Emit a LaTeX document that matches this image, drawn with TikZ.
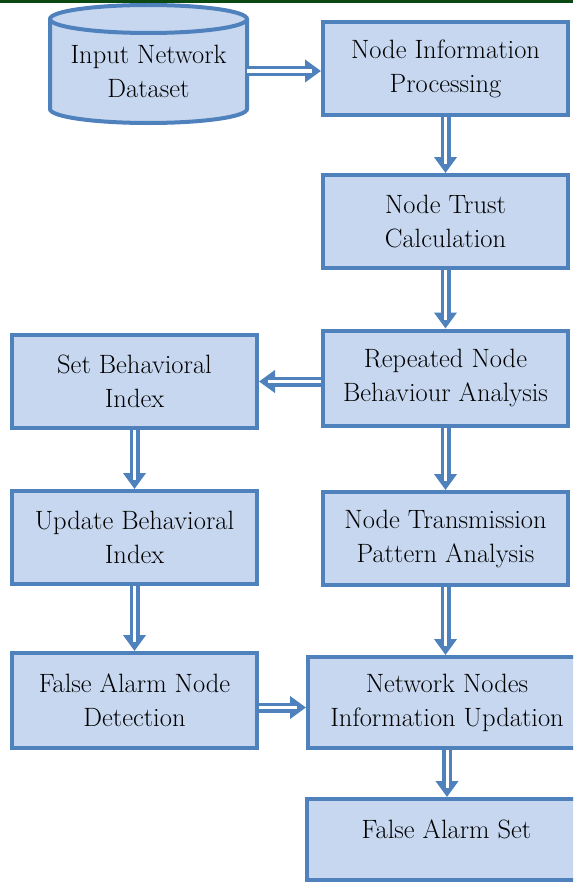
\documentclass[tikz,border=0pt]{standalone}
\usetikzlibrary{arrows.meta,calc}

\definecolor{edgeblue}{RGB}{79,129,189}
\definecolor{boxfill}{RGB}{198,215,239}
\definecolor{topgreen}{RGB}{12,72,18}

\tikzset{
  boxtext/.style={font=\rmfamily\fontsize{26.5}{34}\selectfont},
  stepbox/.style={draw=edgeblue, fill=boxfill, line width=4pt, rectangle,
    minimum width=245pt, minimum height=93pt, inner sep=0pt, align=center,
    boxtext},
  flow/.style={draw=edgeblue, line width=10pt,
    -{Triangle[width=22pt,length=16pt]},
    postaction={draw=white, line width=3pt, -, shorten >=9pt}},
}

\begin{document}
\begin{tikzpicture}[x=1pt, y=-1pt]
  \clip (0,0) rectangle (573,883);
  \fill[white] (0,0) rectangle (573,883);
  % rule along the top edge
  \fill[topgreen] (0,0) rectangle (573,3);

  % data store drawn as a cylinder
  \filldraw[draw=edgeblue, fill=boxfill, line width=4pt]
    (50,19) -- (50,109)
    arc[start angle=180, end angle=360, x radius=98.5pt, y radius=14pt]
    -- (247,19);
  \filldraw[draw=edgeblue, fill=boxfill, line width=4pt]
    (148.5,19) ellipse[x radius=98.5pt, y radius=14pt];
  \node[minimum width=197pt, inner sep=0pt, align=center, boxtext] (data) at (148.5,71)
    {Input Network\\Dataset};

  % right column
  \node[stepbox] (nip)  at (445.5,68.5)  {Node Information\\Processing};
  \node[stepbox] (ntc)  at (445.5,221.5) {Node Trust\\Calculation};
  \node[stepbox, minimum height=95pt] (rnba) at (445.5,378) {Repeated Node\\Behaviour Analysis};
  \node[stepbox] (ntpa) at (445.5,538.5) {Node Transmission\\Pattern Analysis};
  \node[stepbox, minimum width=278pt, minimum height=91pt] (nniu) at (447,702.5)
    {Network Nodes\\Information Updation};
  \node[stepbox, minimum width=279pt, minimum height=81pt, text depth=20pt] (fas) at (446.5,839.5)
    {False Alarm Set};

  % left column
  \node[stepbox] (sbi)  at (134.5,381.5) {Set Behavioral\\Index};
  \node[stepbox] (ubi)  at (134.5,537.5) {Update Behavioral\\Index};
  \node[stepbox, minimum height=95pt] (fand) at (134.5,700.5) {False Alarm Node\\Detection};

  % connectors
  \draw[flow] (data.east) -- (data.east -| nip.west);
  \draw[flow] (nip.south) -- (ntc.north);
  \draw[flow] (ntc.south) -- (rnba.north);
  \draw[flow] (rnba.west |- sbi.east) -- (sbi.east);
  \draw[flow] (rnba.south) -- (ntpa.north);
  \draw[flow] (sbi.south) -- (ubi.north);
  \draw[flow] (ubi.south) -- (fand.north);
  \draw[flow] (ntpa.south) -- (ntpa.south |- nniu.north);
  \draw[flow] ([yshift=-7pt]fand.east) -- ([yshift=-7pt]fand.east -| nniu.west);
  \draw[flow] (nniu.south) -- (nniu.south |- fas.north);
\end{tikzpicture}
\end{document}
